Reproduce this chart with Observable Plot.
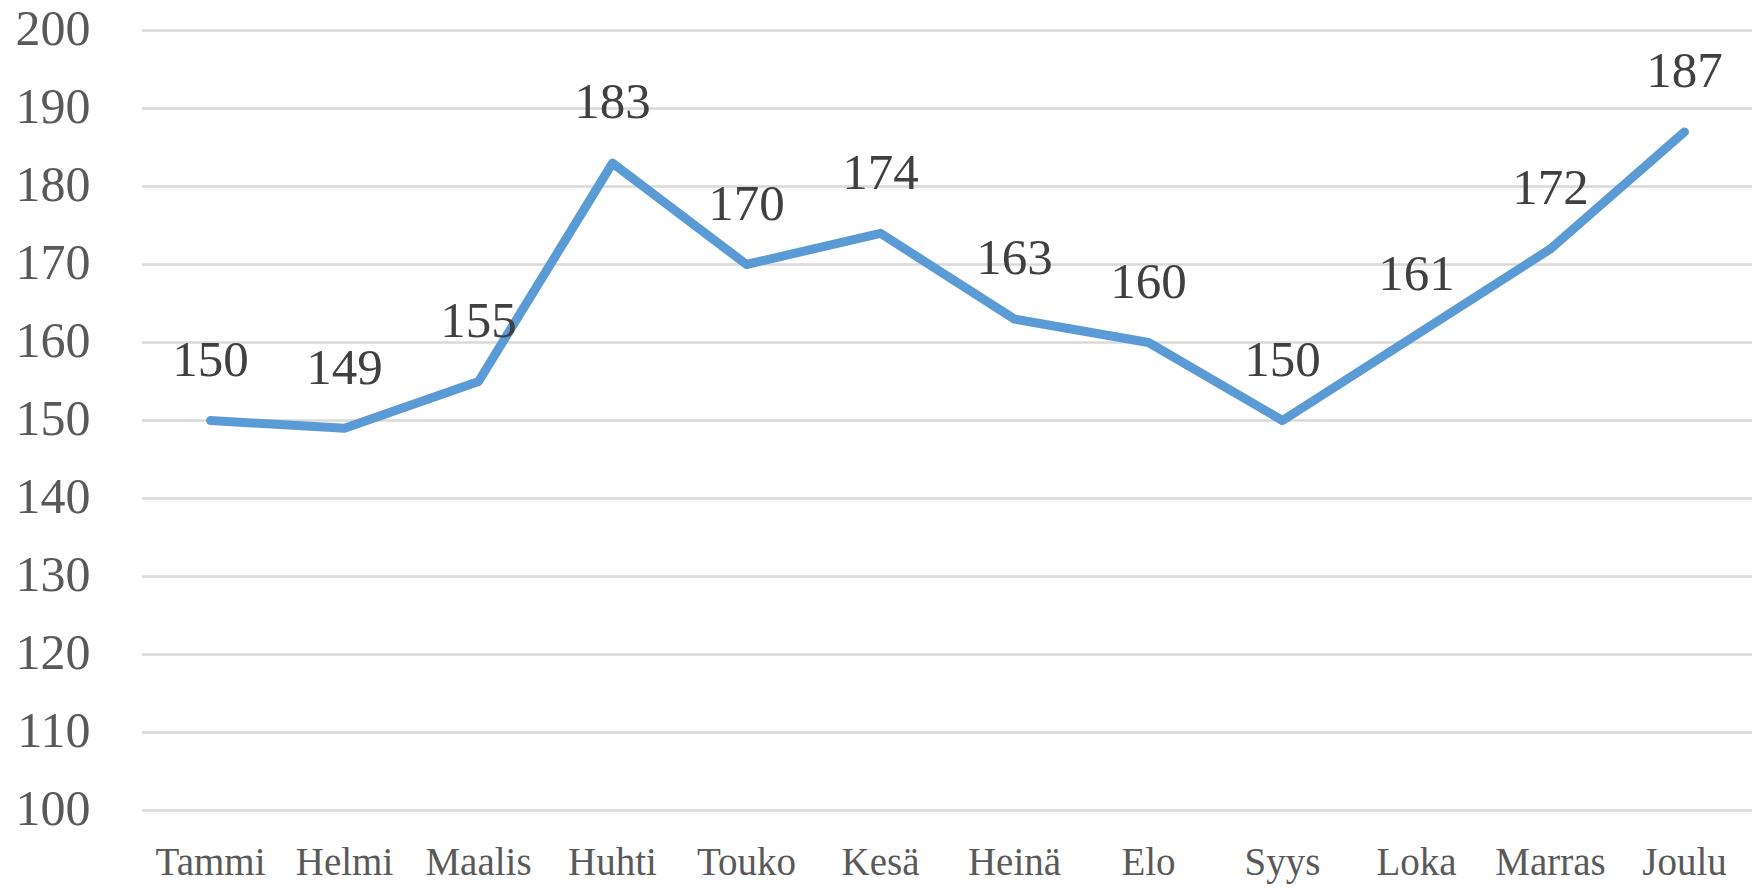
<!DOCTYPE html>
<html>
<head>
<meta charset="utf-8">
<script src="https://cdn.jsdelivr.net/npm/d3@7"></script>
<script src="https://cdn.jsdelivr.net/npm/@observablehq/plot@0.6"></script>
<style>
  html, body { margin: 0; padding: 0; background: #ffffff; }
</style>
</head>
<body>
<div id="chart"></div>
<script>
const months = ["Tammi", "Helmi", "Maalis", "Huhti", "Touko", "Kesä", "Heinä", "Elo", "Syys", "Loka", "Marras", "Joulu"];
const values = [150, 149, 155, 183, 170, 174, 163, 160, 150, 161, 172, 187];
const yTicks = [100, 110, 120, 130, 140, 150, 160, 170, 180, 190, 200];

const data = months.map((m, i) => ({month: m, value: values[i]}));

const chart = Plot.plot({
  width: 1752,
  height: 889,
  marginLeft: 142,
  marginRight: 0,
  marginTop: 30,
  marginBottom: 79,
  style: {fontFamily: "'Liberation Serif', serif", background: "#ffffff", color: "#595959"},
  x: {type: "point", domain: months, padding: 0.5},
  y: {domain: [100, 200]},
  marks: [
    Plot.gridY(yTicks, {stroke: "#d9d9d9", strokeOpacity: 1, strokeWidth: 2.5}),
    Plot.axisY(yTicks, {tickSize: 0, tickPadding: 52, fontSize: 50, fill: "#595959", label: null, dy: -2}),
    Plot.axisX({tickSize: 0, tickPadding: 37, fontSize: 39, fill: "#595959", label: null}),
    Plot.line(data, {x: "month", y: "value", stroke: "#5b9bd5", strokeWidth: 9, strokeLinecap: "round", strokeLinejoin: "round"}),
    Plot.text(data, {x: "month", y: "value", text: d => String(d.value), dy: -61, fontSize: 51, fill: "#404040", lineAnchor: "middle"})
  ]
});
document.getElementById("chart").appendChild(chart);
</script>
</body>
</html>
